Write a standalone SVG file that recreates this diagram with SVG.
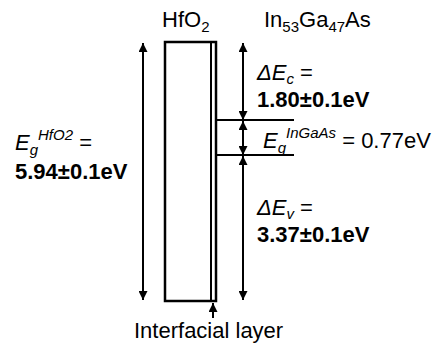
<svg xmlns="http://www.w3.org/2000/svg" width="448" height="347" viewBox="0 0 448 347">
<style>
text{font-family:"Liberation Sans",Arial,sans-serif;font-size:22px;fill:#000}
.b{font-weight:bold}
.i{font-style:italic}
.s{font-size:15px}
.ln{stroke:#000;stroke-width:2;fill:none}
.box{stroke:#000;stroke-width:2.5;fill:#fff}
</style>
<defs>
<marker id="ah" viewBox="0 0 10 10" refX="10" refY="5" markerWidth="10" markerHeight="9" markerUnits="userSpaceOnUse" orient="auto-start-reverse">
<path d="M0,0 L10,5 L0,10 z" fill="#000"/>
</marker>
</defs>
<g id="hfo2-layer">
<rect class="box" x="165" y="42" width="51" height="259"/>
<line class="ln" x1="211" y1="42" x2="211" y2="301" stroke-width="2.5"/>
</g>
<g id="ingaas-bands">
<line class="ln" x1="216" y1="120" x2="294" y2="120"/>
<line class="ln" x1="216" y1="155" x2="294" y2="155"/>
</g>
<g id="connectors">
<line class="ln" x1="143" y1="43" x2="143" y2="300" marker-start="url(#ah)" marker-end="url(#ah)"/>
<line class="ln" x1="243" y1="43" x2="243" y2="120" marker-start="url(#ah)" marker-end="url(#ah)"/>
<line class="ln" x1="243" y1="121" x2="243" y2="155" marker-start="url(#ah)" marker-end="url(#ah)"/>
<line class="ln" x1="243" y1="156" x2="243" y2="300" marker-start="url(#ah)" marker-end="url(#ah)"/>
<line class="ln" x1="213" y1="318" x2="213" y2="303" marker-end="url(#ah)"/>
</g>
<g id="labels">
<text x="162" y="27">HfO<tspan class="s" dy="5">2</tspan></text>
<text x="264" y="27">In<tspan class="s" dy="5">53</tspan><tspan dy="-5">Ga</tspan><tspan class="s" dy="5">47</tspan><tspan dy="-5">As</tspan></text>
<text x="15" y="150"><tspan class="i">E</tspan><tspan class="i s" dy="5">g</tspan><tspan class="i s" dy="-15">HfO2</tspan><tspan dy="10"> =</tspan></text>
<text class="b" x="15" y="179">5.94±0.1eV</text>
<text x="257" y="80"><tspan class="i">ΔE</tspan><tspan class="i s" dy="4">c</tspan><tspan dy="-4"> =</tspan></text>
<text class="b" x="257" y="107">1.80±0.1eV</text>
<text x="263" y="148"><tspan class="i">E</tspan><tspan class="i s" dy="5">g</tspan><tspan class="i s" dy="-15">InGaAs</tspan><tspan dy="10"> = 0.77eV</tspan></text>
<text x="257" y="215"><tspan class="i">ΔE</tspan><tspan class="i s" dy="4">v</tspan><tspan dy="-4"> =</tspan></text>
<text class="b" x="257" y="242">3.37±0.1eV</text>
<text x="134" y="338">Interfacial layer</text>
</g>
</svg>
